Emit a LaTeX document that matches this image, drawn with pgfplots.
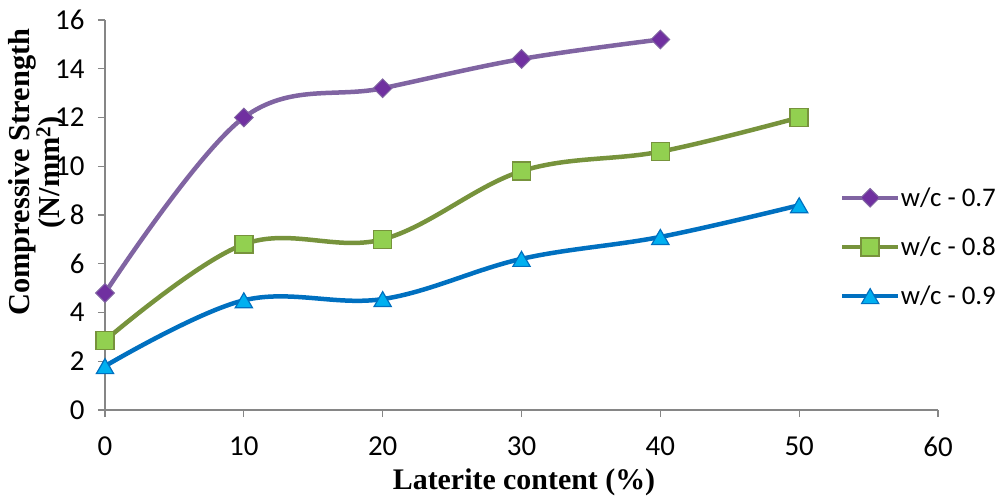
\documentclass[border=0pt]{standalone}
\usepackage{fontspec}
\setmainfont{Liberation Serif}
\newfontfamily\calibri{Carlito}
\usepackage{pgfplots}
\pgfplotsset{compat=1.18}

\definecolor{axisgray}{HTML}{868686}
\definecolor{purpleline}{HTML}{8064A2}
\definecolor{purplefill}{HTML}{7030A0}
\definecolor{greenline}{HTML}{77933C}
\definecolor{greenfill}{HTML}{92D050}
\definecolor{blueline}{HTML}{0070C0}
\definecolor{bluefill}{HTML}{00B0F0}

\begin{document}
\begin{tikzpicture}
\begin{axis}[
  name=ax,
  scale only axis,
  width=833bp, height=390bp,
  xmin=0, xmax=60, ymin=0, ymax=16,
  xtick={0,10,...,60}, ytick={0,2,...,16},
  axis x line=bottom, axis y line=left,
  axis line style={-, draw=axisgray, line width=1.3bp},
  tick style={draw=axisgray, line width=1.3bp},
  tick align=outside, major tick length=7bp,
  xticklabel={\pgfmathprintnumber[assume math mode=true]{\tick}},
  yticklabel={\pgfmathprintnumber[assume math mode=true]{\tick}},
  tick label style={font=\calibri\fontsize{29}{29}\selectfont, text=black},
  yticklabel style={xshift=-10bp},
  xticklabel style={yshift=-16bp},
  xlabel={Laterite content (\%)},
  every axis x label/.style={at={(rel axis cs:0.5,0)}, yshift=-79bp, xshift=2.5bp,
    anchor=base, font=\bfseries\fontsize{30}{30}\selectfont},
  ylabel={Compressive Strength\\(N/mm\textsuperscript{2})},
  every axis y label/.style={at={(rel axis cs:0,0.61)}, xshift=-68bp, rotate=90,
    anchor=center, align=center, font=\bfseries\fontsize{30.5}{30}\selectfont},
  legend style={at={(rel axis cs:0.882,0.418)}, anchor=west, draw=none, fill=none,
    inner sep=0pt, font=\calibri\fontsize{27}{27}\selectfont, row sep=28bp,
    nodes={inner sep=0.5bp}},
  legend cell align=left,
  legend image code/.code={%
    \draw[mark repeat=2, mark phase=2] plot coordinates {(0bp,0bp) (28bp,0bp) (56bp,0bp)};},
]
% w/c = 0.7
\addplot[purpleline, line width=4.5bp, smooth, tension=0.6,
  mark=square*, mark size=6.6pt,
  mark options={rotate=45, fill=purplefill, draw=purpleline, line width=1bp}]
  coordinates {(0,4.8) (10,12.0) (20,13.2) (30,14.4) (40,15.2)};
\addlegendentry{w/c - 0.7}
% w/c = 0.8
\addplot[greenline, line width=4.5bp, smooth, tension=0.6,
  mark=square*, mark size=9pt,
  mark options={fill=greenfill, draw=greenline, line width=1.5bp}]
  coordinates {(0,2.85) (10,6.8) (20,7.0) (30,9.8) (40,10.6) (50,12.0)};
\addlegendentry{w/c - 0.8}
% w/c = 0.9
\addplot[blueline, line width=4.5bp, smooth, tension=0.6,
  mark=triangle*, mark size=10pt,
  mark options={yshift=-2.5bp, fill=bluefill, draw=blueline, line width=1.2bp}]
  coordinates {(0,1.8) (10,4.5) (20,4.55) (30,6.2) (40,7.1) (50,8.4)};
\addlegendentry{w/c - 0.9}
\end{axis}
\pgfresetboundingbox
\path[use as bounding box] ([shift={(-105bp,-87bp)}]ax.south west) rectangle ++(999bp,497bp);
\end{tikzpicture}
\end{document}
